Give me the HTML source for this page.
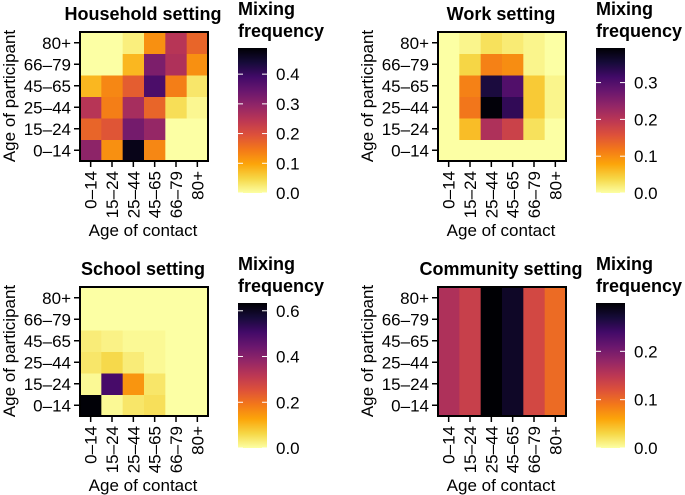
<!DOCTYPE html>
<html><head><meta charset="utf-8"><style>
html,body{margin:0;padding:0;background:#fff;}
svg{display:block;font-family:"Liberation Sans",Arial,sans-serif;}
</style></head><body>
<svg id="chart" width="685" height="495" viewBox="0 0 685 495">
<defs>
<linearGradient id="cmap" x1="0" y1="1" x2="0" y2="0">
<stop offset="0" stop-color="#fcffa4"/><stop offset="0.1" stop-color="#f6d746"/>
<stop offset="0.2" stop-color="#fca50a"/><stop offset="0.3" stop-color="#f37819"/>
<stop offset="0.4" stop-color="#dd513a"/><stop offset="0.5" stop-color="#bc3754"/>
<stop offset="0.6" stop-color="#932667"/><stop offset="0.7" stop-color="#6a176e"/>
<stop offset="0.8" stop-color="#420a68"/><stop offset="0.9" stop-color="#160b39"/>
<stop offset="1" stop-color="#000004"/>
</linearGradient>
</defs>
</svg>
<script>
const ageGroups = ["0–14","15–24","25–44","45–65","66–79","80+"];
const panelTitles = ["Household setting","Work setting","School setting","Community setting"];
const colorbarMax = [0.488,0.394,0.634,0.30];
const colorbarTicks = [[0,0.1,0.2,0.3,0.4],[0,0.1,0.2,0.3],[0,0.2,0.4,0.6],[0,0.1,0.2]];
// rows: participant 0-14 .. 80+ ; columns: contact 0-14 .. 80+
const householdValues = [
 [0.30,0.12,0.47,0.13,0.00,0.00],
 [0.17,0.19,0.33,0.29,0.00,0.00],
 [0.25,0.14,0.27,0.17,0.04,0.01],
 [0.08,0.13,0.18,0.38,0.14,0.03],
 [0.00,0.00,0.08,0.32,0.26,0.12],
 [0.00,0.00,0.02,0.12,0.25,0.17]];
const workValues = [
 [0.00,0.00,0.00,0.00,0.00,0.00],
 [0.00,0.06,0.21,0.18,0.03,0.00],
 [0.00,0.12,0.39,0.33,0.05,0.01],
 [0.00,0.11,0.35,0.30,0.05,0.01],
 [0.00,0.04,0.11,0.10,0.01,0.00],
 [0.00,0.01,0.03,0.02,0.01,0.00]];
const schoolValues = [
 [0.63,0.01,0.04,0.05,0.00,0.00],
 [0.01,0.50,0.15,0.04,0.00,0.00],
 [0.04,0.06,0.03,0.01,0.00,0.00],
 [0.03,0.02,0.01,0.01,0.00,0.00],
 [0.00,0.00,0.00,0.00,0.00,0.00],
 [0.00,0.00,0.00,0.00,0.00,0.00]];
const communityColumnValues = [0.16,0.14,0.30,0.28,0.13,0.10];
const communityValues = ageGroups.map(()=>communityColumnValues.slice());
const allValues = [householdValues,workValues,schoolValues,communityValues];

const stops = ["#fcffa4","#f6d746","#fca50a","#f37819","#dd513a","#bc3754","#932667","#6a176e","#420a68","#160b39","#000004"];
function hex(c){return [1,3,5].map(i=>parseInt(c.substr(i,2),16));}
function color(f){
  f=Math.max(0,Math.min(1,f))*10; const i=Math.min(9,Math.floor(f)); const t=f-i;
  const a=hex(stops[i]),b=hex(stops[i+1]);
  return "rgb("+a.map((v,k)=>Math.round(v+(b[k]-v)*t)).join(",")+")";
}
const NS="http://www.w3.org/2000/svg";
const svg=document.getElementById("chart");
function mk(tag,attrs,parent,text){
  const e=document.createElementNS(NS,tag);
  for(const k in attrs)e.setAttribute(k,attrs[k]);
  if(text!==undefined)e.textContent=text;
  (parent||svg).appendChild(e);return e;
}
const offsets=[[0,0],[358,0],[0,255],[358,255]];
panelTitles.forEach((title,p)=>{
  const ox=offsets[p][0], oy=offsets[p][1];
  const g=mk("g",{transform:`translate(${ox},${oy})`});
  
  
  const bx=80,by=32,bw=128,bh=129,cw=bw/6,ch=bh/6;
  const xS=i=>bx+i*cw, yS=r=>by+(5-r)*ch;
  const cS=v=>color(v/colorbarMax[p]);
  const t=mk("text",{x:143,y:20,"text-anchor":"middle","font-size":18,"font-weight":"bold"},g,title);
  
  
  const vals=allValues[p];
  vals.forEach((row,r)=>row.forEach((v,c)=>{
    const rc=mk("rect",{x:xS(c),y:yS(r),width:cw+0.5,height:ch+0.5,fill:cS(v)},g);
    
    
  }));
  const fr=mk("rect",{x:bx,y:by,width:bw,height:bh,fill:"none",stroke:"#000","stroke-width":2},g);
  
  
  ageGroups.forEach((lab,i)=>{
    const cy=yS(i)+ch/2;
    mk("line",{x1:74,x2:80,y1:cy,y2:cy,stroke:"#000","stroke-width":1.5},g);
    const yl=mk("text",{x:71,y:cy+6,"text-anchor":"end","font-size":17},g,lab);
    
    
    const cx=xS(i)+cw/2;
    mk("line",{x1:cx,x2:cx,y1:161,y2:167,stroke:"#000","stroke-width":1.5},g);
    const xl=mk("text",{x:0,y:0,"text-anchor":"end","font-size":17,transform:`translate(${cx+6},171) rotate(-90)`},g,lab);
    
    
  });
  const xt=mk("text",{x:143,y:236,"text-anchor":"middle","font-size":17},g,"Age of contact");
  
  
  const yt=mk("text",{x:0,y:0,"text-anchor":"middle","font-size":17,transform:"translate(15,96) rotate(-90)"},g,"Age of participant");
  
  
  const cbx=238,cby=48,cbw=29,cbh=145;
  const l1=mk("text",{x:cbx,y:15,"font-size":18,"font-weight":"bold"},g,"Mixing");
  
  
  mk("text",{x:cbx,y:37,"font-size":18,"font-weight":"bold"},g,"frequency");
  const cb=mk("rect",{x:cbx,y:cby,width:cbw,height:cbh,fill:"url(#cmap)"},g);
  
  
  const cyS=v=>cby+cbh-v/colorbarMax[p]*cbh;
  colorbarTicks[p].forEach(v=>{
    const y=cyS(v);
    mk("line",{x1:cbx,x2:cbx+5,y1:y,y2:y,stroke:"#fff","stroke-width":1},g);
    mk("line",{x1:cbx+cbw-5,x2:cbx+cbw,y1:y,y2:y,stroke:"#fff","stroke-width":1},g);
    const tl=mk("text",{x:276,y:y+6,"font-size":17},g,v.toFixed(1));
    
    
  });
});
</script>
</body></html>
